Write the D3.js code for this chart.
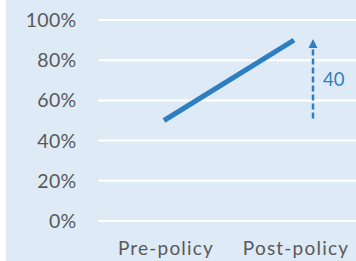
<!DOCTYPE html>
<html>
<head>
<meta charset="utf-8">
<script src="https://cdn.jsdelivr.net/npm/d3@7"></script>
<style>
  body { margin: 0; background: #fff; }
  text { font-family: Lato, "Open Sans", sans-serif; }
</style>
</head>
<body>
<div id="chart"></div>
<script>
var categories = ["Pre-policy", "Post-policy"];
var values = [50, 90];
var yTicks = [0, 20, 40, 60, 80, 100];

var W = 356, H = 261;
var blue = "#2e7fc1";
var grey = "#595959";

var svg = d3.select("#chart")
    .append("svg")
    .attr("width", W)
    .attr("height", H);

// panel background
svg.append("rect")
    .attr("x", 6).attr("y", 0)
    .attr("width", W - 6).attr("height", H)
    .attr("fill", "#deebf6");

var x = d3.scalePoint().domain(categories).range([164, 294]);
var y = d3.scaleLinear().domain([0, 100]).range([221, 20]);

// gridlines
svg.selectAll(".grid")
    .data(yTicks)
    .enter().append("line")
    .attr("x1", 98).attr("x2", W)
    .attr("y1", function(d) { return y(d); })
    .attr("y2", function(d) { return y(d); })
    .attr("stroke", "#fff")
    .attr("stroke-width", 2);

// y tick labels
svg.selectAll(".ylab")
    .data(yTicks)
    .enter().append("text")
    .attr("x", 76.5)
    .attr("y", function(d) { return y(d); })
    .attr("dy", "0.36em")
    .attr("text-anchor", "end")
    .attr("fill", grey)
    .style("font-size", "19.5px")
    .style("letter-spacing", "0.3px")
    .text(function(d) { return d + "%"; });

// x labels
svg.selectAll(".xlab")
    .data(categories)
    .enter().append("text")
    .attr("x", function(d) { return x(d) + 2; })
    .attr("y", 254.5)
    .attr("text-anchor", "middle")
    .attr("fill", grey)
    .style("font-size", "19px")
    .style("letter-spacing", "1.2px")
    .text(function(d) { return d; });

// main line
var line = d3.line()
    .x(function(d, i) { return x(categories[i]); })
    .y(function(d) { return y(d); });

svg.append("path")
    .datum(values)
    .attr("d", line)
    .attr("fill", "none")
    .attr("stroke", blue)
    .attr("stroke-width", 5);

// change arrow
var ax = x(categories[1]) + 19;
svg.append("line")
    .attr("x1", ax).attr("x2", ax)
    .attr("y1", y(values[0]) - 2)
    .attr("y2", y(values[1]) + 8)
    .attr("stroke", blue)
    .attr("stroke-width", 2.5)
    .attr("stroke-dasharray", "6,3");

svg.append("path")
    .attr("d", "M" + (ax - 4.5) + "," + (y(values[1]) + 8) + " L" + ax + "," + (y(values[1]) - 1) + " L" + (ax + 4.5) + "," + (y(values[1]) + 8) + " Z")
    .attr("fill", blue);

svg.append("text")
    .attr("x", ax + 10)
    .attr("y", y((values[0] + values[1]) / 2) - 1)
    .attr("dy", "0.36em")
    .attr("fill", blue)
    .style("font-size", "18.5px")
    .text(values[1] - values[0]);
</script>
</body>
</html>
